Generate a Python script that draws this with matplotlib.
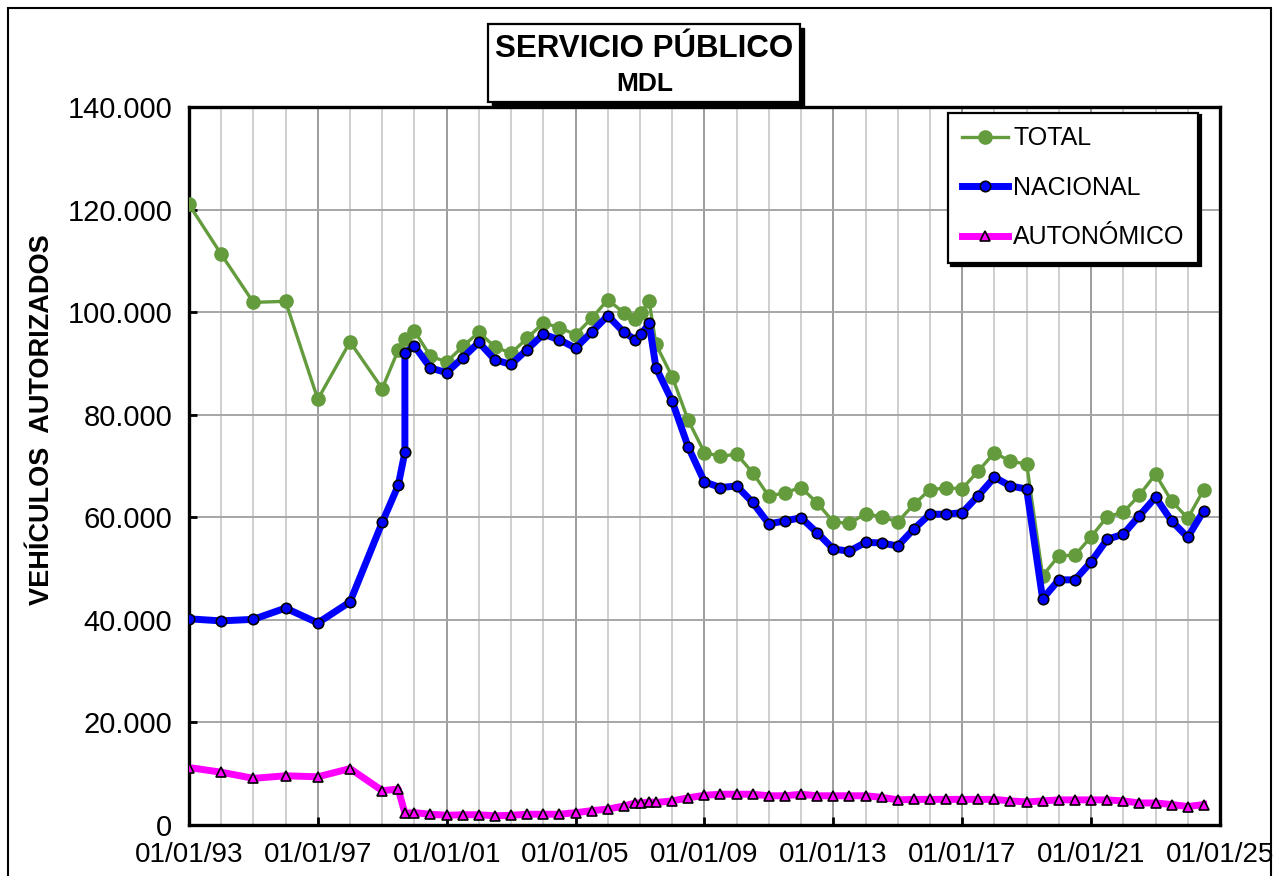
import pandas as pd
import matplotlib.pyplot as plt
import matplotlib.dates as mdates
from matplotlib.patches import Rectangle
from matplotlib.ticker import FuncFormatter, MultipleLocator, FixedLocator

plt.rcParams["font.family"] = ["Liberation Sans", "DejaVu Sans"]

# Fechas de cada dato (anuales hasta 1999, luego semestrales)
FECHAS = [
    "1993-01-01", "1994-01-01", "1995-01-01", "1996-01-01", "1997-01-01",
    "1998-01-01", "1999-01-01", "1999-07-01", "1999-09-15",
    "2000-01-01", "2000-07-01", "2001-01-01", "2001-07-01", "2002-01-01",
    "2002-07-01", "2003-01-01", "2003-07-01", "2004-01-01", "2004-07-01",
    "2005-01-01", "2005-07-01", "2006-01-01", "2006-07-01",
    "2006-11-10", "2007-01-15", "2007-04-15", "2007-07-01",
    "2008-01-01", "2008-07-01", "2009-01-01", "2009-07-01", "2010-01-01",
    "2010-07-01", "2011-01-01", "2011-07-01", "2012-01-01", "2012-07-01",
    "2013-01-01", "2013-07-01", "2014-01-01", "2014-07-01", "2015-01-01",
    "2015-07-01", "2016-01-01", "2016-07-01", "2017-01-01", "2017-07-01",
    "2018-01-01", "2018-07-01", "2019-01-01", "2019-07-01", "2020-01-01",
    "2020-07-01", "2021-01-01", "2021-07-01", "2022-01-01", "2022-07-01",
    "2023-01-01", "2023-07-01", "2024-01-01", "2024-07-01",
]
# NACIONAL tiene dos registros en la misma fecha de 1999
FECHAS_NACIONAL = FECHAS[:9] + [FECHAS[8]] + FECHAS[9:]

TOTAL = [
    121000, 111300, 101900, 102100, 83000, 94200, 85100, 92600, 94700,
    96300, 91400, 90300, 93300, 96100, 93200, 92000, 94900, 97900, 97000,
    95600, 98800, 102400, 99900,
    98600, 99800, 102100, 93700,
    87400, 78900, 72600, 71900, 72300, 68700, 64100, 64800, 65800, 62800,
    59100, 58800, 60700, 60100, 59100, 62500, 65400, 65700, 65600, 69000,
    72600, 70900, 70400, 48600, 52500, 52600, 56200, 60100, 61000, 64300,
    68400, 63200, 59800, 65400,
]
NACIONAL = [
    40200, 39800, 40100, 42300, 39400, 43500, 59000, 66200, 72700, 92100,
    93400, 89100, 88200, 91100, 94100, 90700, 89800, 92700, 95700, 94600,
    93000, 96100, 99300, 96100,
    94600, 95700, 97800, 89200,
    82600, 73700, 66900, 65800, 66100, 62900, 58700, 59300, 59900, 57000,
    53800, 53400, 55100, 55000, 54400, 57700, 60600, 60600, 60900, 64200,
    67800, 66100, 65500, 44100, 47800, 47800, 51300, 55700, 56700, 60300,
    63900, 59300, 56100, 61300,
]
AUTONOMICO = [
    11200, 10300, 9100, 9600, 9400, 11000, 6700, 7000, 2300,
    2400, 2100, 1900, 2000, 2000, 1800, 1900, 2100, 2100, 2100,
    2400, 2800, 3100, 3700,
    4300, 4300, 4500, 4400,
    4700, 5300, 5800, 6000, 6000, 6000, 5700, 5700, 6000, 5700,
    5700, 5700, 5700, 5400, 4900, 5000, 5000, 5000, 5000, 5000,
    5000, 4700, 4500, 4700, 4900, 4900, 4900, 4900, 4700, 4300,
    4300, 4000, 3600, 4000,
]

ANIOS_ETIQUETA = list(range(1993, 2026, 4))


def main():
    fig = plt.figure(figsize=(12.81, 8.76), dpi=100)
    ax = fig.add_axes([0.1475, 0.0582, 0.8049, 0.8197])

    x = pd.to_datetime(FECHAS)
    x_nac = pd.to_datetime(FECHAS_NACIONAL)

    ax.plot(x, TOTAL, color="#639b3d", lw=2.4, marker="o", ms=9.5,
            mec="#639b3d", label="TOTAL", zorder=3)
    ax.plot(x_nac, NACIONAL, color="#0000ff", lw=5, marker="o", ms=7.5,
            mfc="#0000ff", mec="black", mew=1.2, label="NACIONAL", zorder=4)
    ax.plot(x, AUTONOMICO, color="#ff00ff", lw=5, marker="^", ms=7.5,
            mfc="#ff00ff", mec="black", mew=1.2, label="AUTONÓMICO", zorder=5)

    # ejes
    ax.set_xlim(pd.Timestamp("1993-01-01"), pd.Timestamp("2025-01-01"))
    ax.set_ylim(0, 140000)
    etiquetas = pd.to_datetime([f"{a}-01-01" for a in ANIOS_ETIQUETA])
    ax.xaxis.set_major_locator(FixedLocator(mdates.date2num(etiquetas)))
    ax.xaxis.set_major_formatter(mdates.DateFormatter("%d/%m/%y"))
    ax.xaxis.set_minor_locator(mdates.YearLocator(1))
    ax.yaxis.set_major_locator(MultipleLocator(20000))
    ax.yaxis.set_major_formatter(FuncFormatter(lambda v, p: f"{int(v):,}".replace(",", ".")))

    ax.tick_params(axis="both", which="major", direction="in", length=6, width=2,
                   labelsize=20, pad=12, colors="black")
    ax.tick_params(axis="y", which="major", labelsize=21)
    ax.tick_params(axis="x", which="minor", length=0)

    ax.grid(True, which="major", axis="y", color="#a6a6a6", lw=1.4)
    ax.grid(True, which="major", axis="x", color="#9c9c9c", lw=1.4)
    ax.grid(True, which="minor", axis="x", color="#cfcfcf", lw=1.4)
    ax.set_axisbelow(True)
    for s in ax.spines.values():
        s.set_color("black")
        s.set_linewidth(2.4)

    fig.text(42 / 1281, 0.5205, "VEHÍCULOS  AUTORIZADOS", rotation=90,
             ha="center", va="center", fontsize=19.5, fontweight="bold")

    # leyenda con sombra
    leg = ax.legend(loc="upper right", bbox_to_anchor=(0.979, 0.992),
                    borderaxespad=0, fontsize=18, frameon=True, fancybox=False,
                    edgecolor="black", framealpha=1, numpoints=1,
                    handlelength=1.85, handletextpad=0.2, borderpad=0.55,
                    labelspacing=1.02,
                    shadow={"facecolor": "black", "edgecolor": "black", "alpha": 1})
    leg.get_frame().set_linewidth(1.6)

    # recuadro del título con sombra
    fig.patches.append(Rectangle((0.3840, 0.8790), 0.2436, 0.089,
                                 transform=fig.transFigure, facecolor="black",
                                 edgecolor="black", zorder=1))
    fig.patches.append(Rectangle((0.3809, 0.8836), 0.2436, 0.089,
                                 transform=fig.transFigure, facecolor="white",
                                 edgecolor="black", lw=1.6, zorder=2))
    fig.text(0.503, 0.9349, "SERVICIO PÚBLICO", ha="center", va="baseline",
             fontsize=22.5, fontweight="bold", zorder=3)
    fig.text(0.503, 0.8961, "MDL", ha="center", va="baseline",
             fontsize=19, fontweight="bold", zorder=3)

    # marco exterior del gráfico
    fig.patches.append(Rectangle((8 / 1281, -0.02), 1263 / 1281, 1.02 - 8 / 876,
                                 transform=fig.transFigure, fill=False,
                                 edgecolor="black", lw=1.5, zorder=0))

    fig.savefig("out.png", dpi=100)
    plt.close(fig)


if __name__ == "__main__":
    main()
